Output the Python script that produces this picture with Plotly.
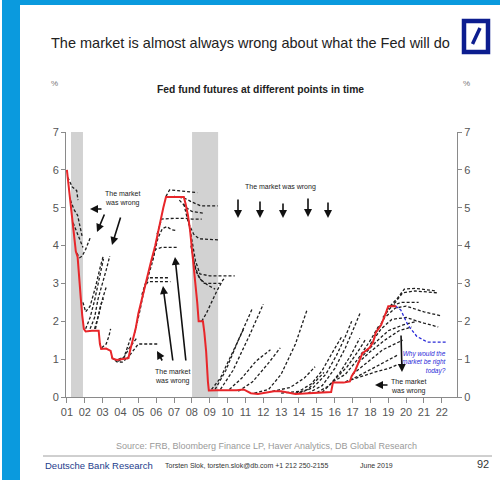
import plotly.graph_objects as go

# ---------------- data ----------------
ffr_dates = [2001.0, 2001.12, 2001.25, 2001.38, 2001.5, 2001.6, 2001.7, 2001.78, 2001.86, 2001.95,
             2002.05, 2002.4, 2002.78, 2002.85, 2002.92, 2003.2, 2003.45, 2003.55, 2003.8, 2004.0,
             2004.45, 2004.55, 2004.7, 2004.85, 2005.0, 2005.2, 2005.45, 2005.7, 2005.95, 2006.2,
             2006.4, 2006.55, 2007.55, 2007.65, 2007.78, 2007.9, 2008.0, 2008.1, 2008.2, 2008.3,
             2008.38, 2008.62, 2008.7, 2008.8, 2008.9, 2008.95, 2009.5, 2010.0, 2010.5, 2010.9,
             2011.3, 2011.7, 2012.1, 2012.6, 2013.0, 2013.4, 2013.8, 2014.3, 2014.8, 2015.3,
             2015.8, 2015.9, 2016.5, 2016.85, 2016.95, 2017.15, 2017.35, 2017.55, 2017.95, 2018.15,
             2018.3, 2018.6, 2018.85, 2019.0, 2019.45]
ffr_rates = [6.0, 5.5, 4.95, 4.4, 3.85, 3.7, 3.2, 2.6, 2.15, 1.8,
             1.73, 1.75, 1.75, 1.4, 1.27, 1.28, 1.22, 1.02, 0.98, 1.0,
             1.03, 1.25, 1.5, 1.8, 2.2, 2.6, 3.05, 3.55, 4.0, 4.6,
             5.0, 5.28, 5.28, 5.1, 4.8, 4.4, 3.95, 3.5, 3.0, 2.5,
             2.0, 2.0, 1.7, 1.2, 0.4, 0.17, 0.18, 0.17, 0.18, 0.2,
             0.1, 0.08, 0.12, 0.15, 0.15, 0.12, 0.08, 0.09, 0.1, 0.12,
             0.13, 0.38, 0.38, 0.41, 0.55, 0.7, 0.91, 1.15, 1.3, 1.45,
             1.7, 1.9, 2.2, 2.4, 2.4]

# futures curves: (dates, implied rates)
futures_curves = [
    ([2001.05, 2001.3, 2001.55, 2001.62], [5.8, 5.55, 5.45, 5.2]),
    ([2001.2, 2001.4, 2001.6, 2001.85], [5.2, 4.95, 4.8, 4.25]),
    ([2001.35, 2001.55, 2001.75, 2001.9], [4.6, 4.35, 4.15, 3.95]),
    ([2001.55, 2001.72, 2001.85, 2002.05, 2002.3], [3.8, 3.68, 3.72, 3.9, 4.2]),
    ([2001.9, 2002.05, 2002.3, 2002.6, 2002.85, 2003.05], [2.5, 2.25, 2.4, 2.9, 3.4, 3.75]),
    ([2002.05, 2002.3, 2002.55, 2002.8, 2003.05], [1.8, 2.1, 2.55, 3.1, 3.65]),
    ([2002.3, 2002.55, 2002.75, 2003.0, 2003.2, 2003.4], [1.8, 2.1, 2.6, 3.0, 3.35, 3.72]),
    ([2002.55, 2002.8, 2003.0, 2003.2], [1.8, 2.2, 2.6, 2.9]),
    ([2002.6, 2002.75, 2002.9, 2003.05], [1.8, 2.1, 2.45, 2.6]),
    ([2002.95, 2003.2, 2003.35, 2003.45], [1.3, 1.4, 1.6, 1.8]),
    ([2003.5, 2003.8, 2004.1, 2004.3], [1.05, 0.93, 0.92, 1.0]),
    ([2003.6, 2003.9, 2004.2, 2004.4, 2004.6], [1.0, 0.95, 1.05, 1.3, 1.6]),
    ([2003.9, 2004.2, 2004.5, 2004.9], [1.0, 1.05, 1.3, 1.55]),
    ([2004.35, 2004.6, 2004.8, 2005.0, 2006.15], [1.0, 1.15, 1.3, 1.4, 1.4]),
    ([2004.8, 2005.1, 2005.35, 2005.55, 2006.8], [1.7, 2.3, 2.9, 3.05, 3.05]),
    ([2005.2, 2005.4, 2005.55, 2006.75], [2.7, 3.0, 3.15, 3.15]),
    ([2005.5, 2005.75, 2005.95, 2006.3, 2007.2], [3.1, 3.5, 3.9, 3.95, 3.95]),
    ([2005.8, 2006.1, 2006.35, 2006.6, 2006.85, 2007.1], [3.6, 4.2, 4.45, 4.5, 4.42, 4.4]),
    ([2006.05, 2006.3, 2007.0, 2007.7, 2008.0, 2008.55], [4.3, 4.7, 4.72, 4.72, 4.7, 4.7]),
    ([2006.55, 2006.75, 2007.2, 2007.7, 2008.3], [5.3, 5.47, 5.45, 5.42, 5.4]),
    ([2007.0, 2007.6, 2008.0, 2008.5, 2009.45], [5.3, 5.25, 5.15, 5.05, 5.05]),
    ([2007.3, 2007.7, 2008.0, 2008.7], [5.2, 5.0, 4.9, 4.85]),
    ([2007.55, 2007.8, 2008.1, 2008.4, 2009.5], [5.1, 4.6, 4.3, 4.18, 4.15]),
    ([2007.8, 2008.0, 2008.2, 2008.45, 2009.0, 2010.4], [4.7, 4.2, 3.6, 3.25, 3.2, 3.2]),
    ([2007.95, 2008.15, 2008.4, 2008.7, 2009.6], [4.0, 3.5, 3.15, 3.0, 3.0]),
    ([2008.05, 2008.25, 2008.5, 2008.9, 2009.3], [3.7, 3.3, 3.1, 2.95, 2.85]),
    ([2008.55, 2008.8, 2009.1, 2009.4, 2009.75, 2009.9], [2.0, 2.2, 2.5, 2.8, 3.1, 3.15]),
    ([2009.1, 2009.6, 2010.2, 2010.9], [0.2, 0.5, 1.1, 1.8]),
    ([2009.3, 2009.9, 2010.6, 2011.4], [0.2, 0.7, 1.5, 2.35]),
    ([2009.6, 2010.3, 2011.2, 2012.0], [0.2, 0.7, 1.6, 2.45]),
    ([2010.1, 2010.8, 2011.6, 2012.4], [0.2, 0.5, 0.95, 1.25]),
    ([2010.6, 2011.4, 2012.3, 2012.95], [0.15, 0.4, 0.9, 1.3]),
    ([2011.5, 2012.3, 2013.0, 2013.8, 2014.45], [0.1, 0.2, 0.6, 1.4, 2.3]),
    ([2012.5, 2013.5, 2014.3, 2014.9], [0.15, 0.25, 0.5, 0.8]),
    ([2013.0, 2014.0, 2014.7, 2015.3, 2015.9, 2016.4], [0.1, 0.15, 0.35, 0.7, 1.2, 1.6]),
    ([2013.8, 2014.5, 2015.0, 2015.4], [0.1, 0.2, 0.45, 0.65]),
    ([2014.0, 2014.8, 2015.5, 2016.1, 2016.6, 2016.95], [0.1, 0.25, 0.6, 1.1, 1.6, 2.0]),
    ([2014.5, 2015.3, 2016.0, 2016.6, 2017.1, 2017.45], [0.1, 0.3, 0.75, 1.3, 1.85, 2.25]),
    ([2015.0, 2015.7, 2016.3, 2016.9, 2017.4], [0.12, 0.3, 0.65, 1.1, 1.55]),
    ([2015.3, 2016.0, 2016.7, 2017.3, 2017.7], [0.12, 0.45, 0.8, 1.2, 1.5]),
    ([2015.9, 2016.6, 2017.3, 2018.0, 2018.5], [0.4, 0.6, 1.0, 1.5, 1.9]),
    ([2016.9, 2017.5, 2018.2, 2019.0, 2019.5], [0.45, 0.55, 0.65, 0.75, 0.85]),
    ([2016.6, 2017.3, 2018.3, 2019.5], [0.4, 0.55, 0.8, 1.1]),
    ([2017.0, 2017.8, 2018.7, 2019.8], [0.6, 0.9, 1.25, 1.5]),
    ([2017.3, 2018.0, 2018.8, 2019.6, 2020.3], [0.9, 1.2, 1.5, 1.75, 1.85]),
    ([2017.6, 2018.3, 2019.0, 2019.8, 2020.6], [1.1, 1.45, 1.75, 1.9, 2.0]),
    ([2018.0, 2018.6, 2019.2, 2020.0, 2021.0, 2021.8], [1.4, 1.8, 2.05, 2.1, 1.95, 1.85]),
    ([2018.3, 2018.8, 2019.4, 2020.0, 2021.0, 2021.9], [1.7, 2.1, 2.35, 2.4, 2.25, 2.15]),
    ([2018.7, 2019.2, 2019.7, 2020.7], [2.1, 2.4, 2.5, 2.5]),
    ([2018.9, 2019.4, 2019.8, 2020.5, 2021.8], [2.3, 2.5, 2.75, 2.8, 2.75]),
    ([2019.1, 2019.5, 2019.9, 2020.5, 2021.7], [2.4, 2.6, 2.85, 2.87, 2.8]),
]

latest_x = [2019.4, 2019.7, 2020.1, 2020.6, 2021.2, 2022.3]
latest_y = [2.4, 2.3, 1.9, 1.6, 1.45, 1.45]

recessions = [(2001.23, 2001.9), (2008.01, 2009.47)]
year_ticks = list(range(2001, 2023))
year_labels = ["%02d" % (y - 2000) for y in year_ticks]

# ---------------- layout helpers ----------------
W, H = 500, 480
PL, PR, PT, PB = 66, 457, 132, 397


def xp(px):
    return (px - PL) / (PR - PL)


def yp(py):
    return (PB - py) / (PB - PT)


fig = go.Figure()

for xs, ys in futures_curves:
    fig.add_trace(go.Scatter(x=xs, y=ys, mode="lines", hoverinfo="skip",
                             line=dict(color="#1e1e1e", width=1.3, dash="3px,2px")))

fig.add_trace(go.Scatter(x=latest_x, y=latest_y, mode="lines", hoverinfo="skip",
                         line=dict(color="#2a2ad8", width=1.3, dash="3px,2px")))

fig.add_trace(go.Scatter(x=ffr_dates, y=ffr_rates, mode="lines", hoverinfo="skip",
                         line=dict(color="#e8262a", width=2)))

# invisible trace on right axis
fig.add_trace(go.Scatter(x=[2001], y=[0], yaxis="y2", mode="markers",
                         marker=dict(opacity=0), hoverinfo="skip"))

shapes = []
for x0, x1 in recessions:
    shapes.append(dict(type="rect", xref="x", yref="y", x0=x0, x1=x1, y0=0, y1=7,
                       fillcolor="#d2d2d2", line=dict(width=0), layer="below"))
# blue frame
shapes.append(dict(type="rect", xref="paper", yref="paper", x0=xp(2), x1=xp(20), y0=yp(480), y1=yp(0),
                   fillcolor="#0a9ade", line=dict(width=0), layer="below"))
shapes.append(dict(type="rect", xref="paper", yref="paper", x0=xp(2), x1=xp(500), y0=yp(5), y1=yp(0),
                   fillcolor="#0a9ade", line=dict(width=0), layer="below"))
# logo
shapes.append(dict(type="rect", xref="paper", yref="paper", x0=xp(464), x1=xp(488), y0=yp(52), y1=yp(21),
                   fillcolor="white", line=dict(color="#0c1d8f", width=4.5)))
shapes.append(dict(type="line", xref="paper", yref="paper", x0=xp(472.5), x1=xp(480), y0=yp(44), y1=yp(28),
                   line=dict(color="#0c1d8f", width=3.5)))
# footer rule
shapes.append(dict(type="line", xref="paper", yref="paper", x0=xp(43), x1=xp(492), y0=yp(456), y1=yp(456),
                   line=dict(color="#a0a0a0", width=1)))

NARROW = "Liberation Sans Narrow, Liberation Sans, Arial, sans-serif"
SANS = "Liberation Sans, Arial, sans-serif"

annotations = []


def text(px, py, s, size, color="#222", family=SANS, xanchor="center", align="center"):
    annotations.append(dict(xref="paper", yref="paper", x=xp(px), y=yp(py), text=s, showarrow=False,
                            xanchor=xanchor, yanchor="middle", align=align,
                            font=dict(size=size, color=color, family=family)))


def arrow(hx, hy, tx, ty):
    annotations.append(dict(xref="paper", yref="paper", x=xp(hx), y=yp(hy), ax=tx - hx, ay=ty - hy,
                            text="", showarrow=True, arrowhead=2, arrowsize=1.0, arrowwidth=1.6,
                            arrowcolor="#111"))


text(250, 43, "The market is almost always wrong about what the Fed will do", 14.5, "#222")
text(260, 89, "<b>Fed fund futures at different points in time</b>", 10.3, "#222", NARROW)
text(54, 83, "%", 8, "#777")
text(466, 83, "%", 8, "#777")

text(122, 198, "The market<br>was wrong", 7, "#222", NARROW)
text(280, 187, "The market was wrong", 7, "#222", NARROW)
text(172, 376, "The market<br>was wrong", 7, "#222", NARROW)
text(408, 386, "The market<br>was wrong", 7, "#222", NARROW)
text(449, 362, "<i>Why would the<br>market be right<br>today?</i>", 6.5, "#2a2ad8", NARROW,
     xanchor="right", align="right")

arrow(90, 209, 103, 209)
arrow(97, 232, 105, 213)
arrow(112, 245, 121, 216)
for ax_, ty, hy in [(238, 198, 218), (260, 200, 218), (283, 202, 218), (308, 197, 217), (328, 201, 218)]:
    arrow(ax_, hy, ax_, ty)
arrow(163, 286, 173, 362)
arrow(175, 257, 186, 362)
arrow(157, 351, 163, 362)
arrow(375, 385, 389, 385)
arrow(402, 372, 401, 334)

text(266, 446, "Source: FRB, Bloomberg Finance LP, Haver Analytics, DB Global Research", 9, "#9a9a9a", NARROW)
text(43, 465, "Deutsche Bank Research", 9.5, "#1d3c8c", NARROW, xanchor="left")
text(163, 465, "Torsten Slok, torsten.slok@db.com +1 212 250-2155", 7, "#333", NARROW, xanchor="left")
text(358, 465, "June 2019", 7, "#333", NARROW, xanchor="left")
text(491, 464, "92", 11, "#333", SANS, xanchor="right")

axis_common = dict(showgrid=False, zeroline=False, showline=True, linecolor="#8a8a8a", linewidth=1,
                   ticks="outside", tickcolor="#8a8a8a", tickfont=dict(size=11, color="#555", family=SANS))

fig.update_layout(
    width=W, height=H,
    margin=dict(l=PL, r=W - PR, t=PT, b=H - PB, pad=0),
    paper_bgcolor="white", plot_bgcolor="white",
    showlegend=False,
    xaxis=dict(range=[2000.95, 2022.85], tickvals=year_ticks, ticktext=year_labels, ticklen=5,
               **axis_common),
    yaxis=dict(range=[0, 7], dtick=1, ticklen=4, **axis_common),
    yaxis2=dict(range=[0, 7], dtick=1, ticklen=4, overlaying="y", side="right", **axis_common),
    shapes=shapes,
    annotations=annotations,
)

fig.write_html("out.html", config={"displayModeBar": False},
               post_script="document.body.style.margin='0';document.body.style.overflow='hidden';")
